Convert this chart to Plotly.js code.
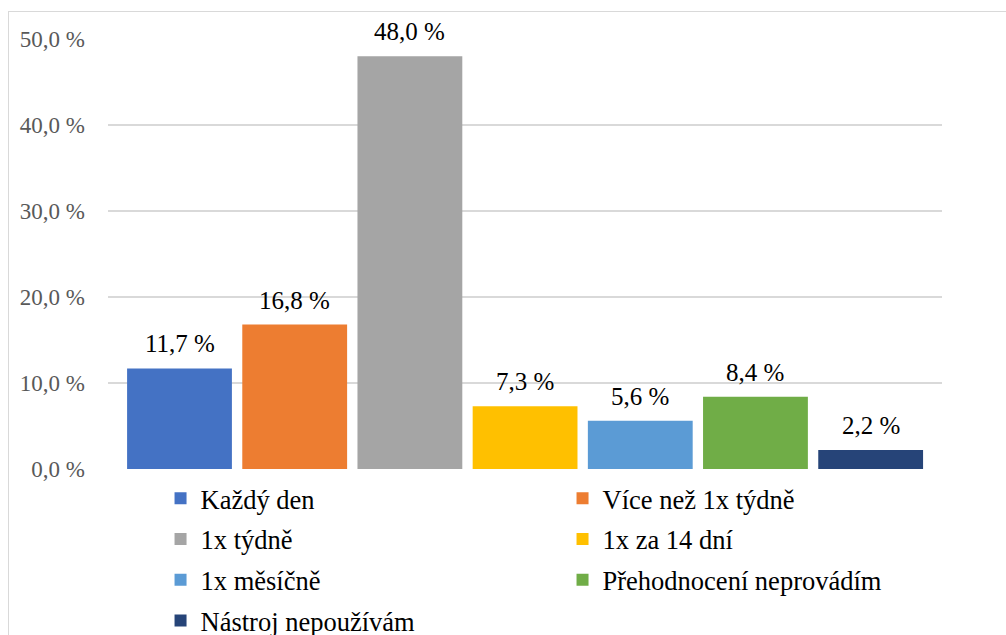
<!DOCTYPE html>
<html>
<head>
<meta charset="utf-8">
<script src="https://cdn.plot.ly/plotly-3.0.1.min.js"></script>
<style>
  html, body { margin: 0; padding: 0; background: #fff; }
  #wrap { position: relative; width: 1006px; height: 635px; overflow: hidden; }
  #chart { position: absolute; left: 0; top: 0; width: 1006px; height: 635px; }
  #frame { position: absolute; left: 8px; top: 11px; width: 1010px; height: 640px;
           border: 1.5px solid #d9d9d9; pointer-events: none; box-sizing: border-box; }
</style>
</head>
<body>
<div id="wrap">
  <div id="chart"></div>
  <div id="frame"></div>
</div>
<script>
const categories = ["Každý den", "Více než 1x týdně", "1x týdně", "1x za 14 dní",
                    "1x měsíčně", "Přehodnocení neprovádím", "Nástroj nepoužívám"];
const values = [11.7, 16.8, 48.0, 7.3, 5.6, 8.4, 2.2];
const labels = ["11,7 %", "16,8 %", "48,0 %", "7,3 %", "5,6 %", "8,4 %", "2,2 %"];
const colors = ["#4472C4", "#ED7D31", "#A5A5A5", "#FFC000", "#5B9BD5", "#70AD47", "#264478"];
const yTickVals = [0, 10, 20, 30, 40, 50];
const yTickText = ["0,0 %", "10,0 %", "20,0 %", "30,0 %", "40,0 %", "50,0 %"];

const serif = '"Liberation Serif", "DejaVu Serif", serif';

const traces = categories.map((c, i) => ({
  type: "bar",
  name: c,
  x: [c],
  y: [values[i]],
  marker: { color: colors[i] },
  legendgroup: "g" + i,
  legend: (i % 2 === 0) ? "legend" : "legend2",
  hoverinfo: "skip"
}));

const annotations = categories.map((c, i) => ({
  x: c, y: values[i], xref: "x", yref: "y",
  text: labels[i], showarrow: false,
  yanchor: "bottom", yshift: 9,
  font: { family: serif, size: 25, color: "#000" }
}));

const legendCommon = {
  orientation: "v",
  xanchor: "left", yanchor: "top",
  font: { family: serif, size: 26.5, color: "#000" },
  bgcolor: "rgba(0,0,0,0)",
  tracegroupgap: 3.3,
  itemclick: false, itemdoubleclick: false
};

const layout = {
  width: 1006, height: 635,
  margin: { l: 108, r: 64, t: 39, b: 166, autoexpand: false },
  paper_bgcolor: "#fff", plot_bgcolor: "#fff",
  font: { family: serif },
  barmode: "overlay",
  bargap: 0.09,
  showlegend: true,
  xaxis: {
    type: "category",
    categoryorder: "array", categoryarray: categories,
    range: [-0.6207, 6.6193],
    showticklabels: false, showgrid: false, zeroline: false,
    showline: false, ticks: "", fixedrange: true
  },
  yaxis: {
    range: [0, 50],
    tickvals: yTickVals, ticktext: yTickText,
    showgrid: true, gridcolor: "#d9d9d9", gridwidth: 1.5,
    zeroline: false, showline: false, ticks: "",
    ticklabelstandoff: 22,
    tickfont: { family: serif, size: 23, color: "#595959" },
    fixedrange: true
  },
  legend: Object.assign({}, legendCommon, { x: 0.063, y: -0.013 }),
  legend2: Object.assign({}, legendCommon, { x: 0.545, y: -0.013 }),
  annotations: annotations
};

Plotly.newPlot("chart", traces, layout, { displayModeBar: false, staticPlot: true });
</script>
</body>
</html>
